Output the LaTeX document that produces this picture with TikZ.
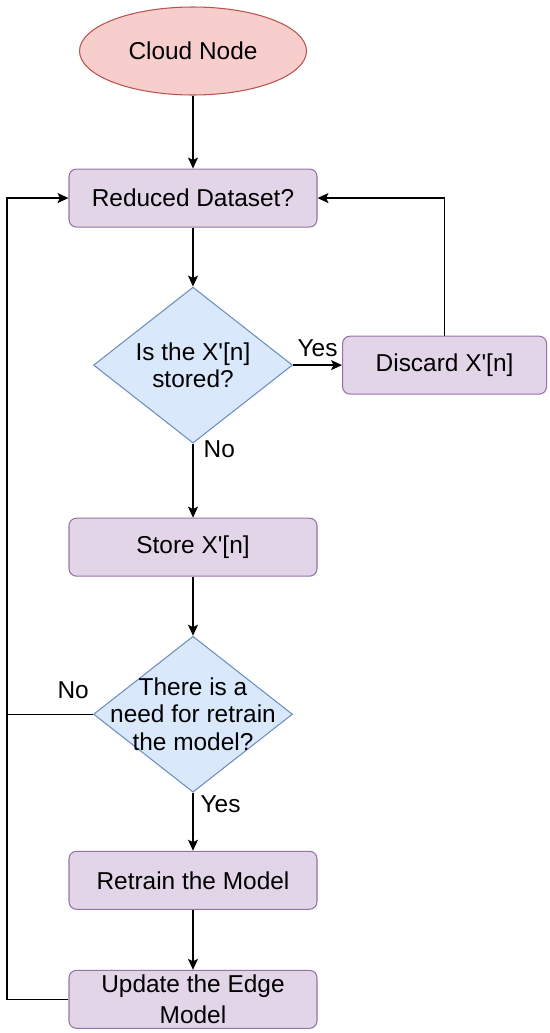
\documentclass[tikz,border=0pt]{standalone}
\usepackage{fontspec}
\setmainfont{Liberation Sans}
\usetikzlibrary{arrows.meta,positioning,shapes.geometric}
\definecolor{cloudfill}{HTML}{F8CECC}
\definecolor{clouddraw}{HTML}{B85450}
\definecolor{stepfill}{HTML}{E1D5E7}
\definecolor{stepdraw}{HTML}{9673A6}
\definecolor{askfill}{HTML}{DAE8FC}
\definecolor{askdraw}{HTML}{6C8EBF}

\begin{document}
\begin{tikzpicture}[
		>={Stealth[length=0.22cm, width=0.2cm, inset=0.05cm]},
		font=\fontsize{13.9pt}{16pt}\selectfont,
		terminal/.style={ellipse, draw=clouddraw, fill=cloudfill, line width=0.6pt,
				minimum width=4.54cm, minimum height=1.76cm},
		process/.style={draw=stepdraw, fill=stepfill, rounded corners=0.15cm,
				minimum width=4.96cm, minimum height=1.16cm, inner sep=1pt, align=center,
				line width=0.6pt},
		decision/.style={diamond, draw=askdraw, fill=askfill, line width=0.6pt,
				minimum width=3.98cm, minimum height=3.12cm, inner sep=0pt,
				label={[align=center, font=\fontsize{13.9pt}{15.4pt}\selectfont]center:{#1}}},
		flow/.style={line width=0.75pt},
		note/.style={inner sep=0pt},
	]
	\useasboundingbox (0,0) rectangle (11,-20.66);

	\node[terminal] (cloud) at (3.86,-1.02) {Cloud Node};

	\node[process, below=1.46cm of cloud] (reduced) {Reduced Dataset?};

	\node[decision={Is the X\textquotesingle[n]\\stored?}, below=1.18cm of reduced] (ask1) {};

	\node[process, minimum width=4.08cm, right=0.98cm of ask1] (discard) {Discard X\textquotesingle[n]};

	\node[process, below=1.48cm of ask1] (store) {Store X\textquotesingle[n]};

	\node[decision={There is a\\need for retrain\\the model?}, below=1.18cm of store] (ask2) {};

	\node[process, below=1.16cm of ask2] (retrain) {Retrain the Model};

	\node[process, below=1.2cm of retrain,
		font=\fontsize{13.9pt}{17.5pt}\selectfont] (update) {Update the Edge\\Model};

	\coordinate (leftrail) at (0.14,0);

	\draw[->, flow] (cloud) -- (reduced);
	\draw[->, flow] (reduced) -- (ask1);
	\draw[->, flow] (ask1.east) -- (discard.west)
	node[midway, above=0.16cm, note] {Yes};
	\draw[->, flow] (discard.north) |- (reduced.east);
	\draw[->, flow] (ask1.south) -- (store.north)
	node[pos=0.08, right=0.2cm, note] {No};
	\draw[->, flow] (store) -- (ask2);
	\draw[->, flow] (ask2.south) -- (retrain.north)
	node[pos=0.2, right=0.14cm, note] {Yes};
	\draw[->, flow] (retrain) -- (update);
	\draw[->, flow] (update.west) -- (update.west -| leftrail) |- (reduced.west);
	\draw[flow] (ask2.west) -- (ask2.west -| leftrail)
	node[pos=0.23, above=0.3cm, note] {No};

\end{tikzpicture}
\end{document}
